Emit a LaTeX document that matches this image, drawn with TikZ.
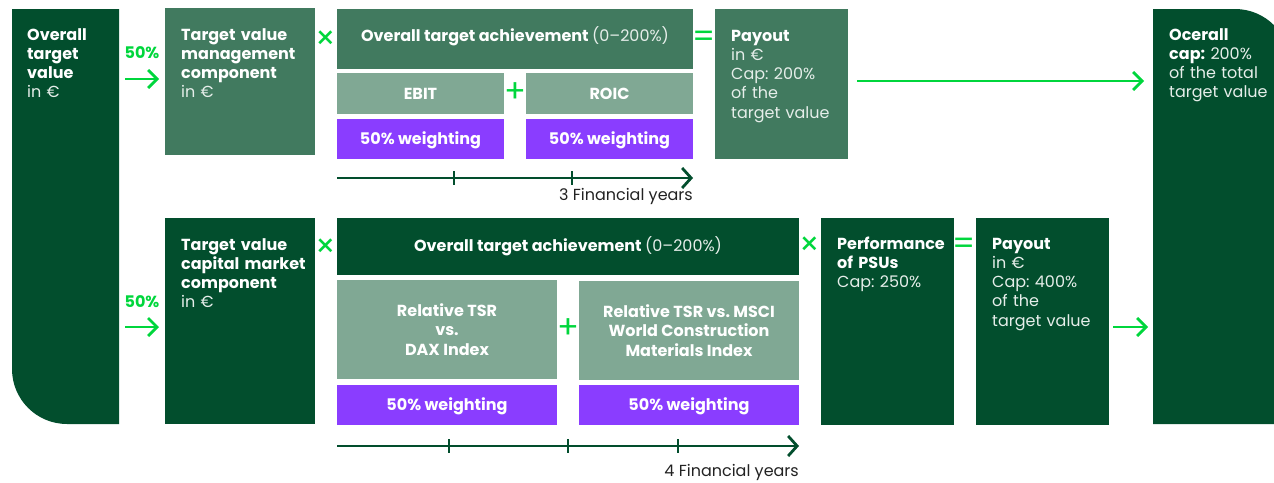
\documentclass[tikz,border=0pt]{standalone}
\usepackage{fontspec}
\setmainfont{Poppins}
\frenchspacing
\usetikzlibrary{arrows.meta}
\definecolor{dkg}{HTML}{024E2D}
\definecolor{mdg}{HTML}{417A5F}
\definecolor{ltg}{HTML}{80A894}
\definecolor{pur}{HTML}{8A3DFF}
\definecolor{brg}{HTML}{00D63C}
\definecolor{offw}{HTML}{E6EEEA}
\definecolor{dtxt}{HTML}{222222}
\begin{document}
\begin{tikzpicture}[x=1pt,y=-1pt,
  box/.style={inner sep=0pt, outer sep=0pt, anchor=north west, draw=none},
  txt/.style={inner sep=0pt, anchor=base west, text=offw, align=left, text width=140pt, font=\fontsize{16}{19.3}\selectfont},
  ctr/.style={inner sep=0pt, anchor=center, text=white, align=center, font=\fontsize{16}{19.3}\selectfont\bfseries},
  op/.style={inner sep=0pt, anchor=center, text=brg, font=\fontsize{32}{32}\selectfont},
  pct/.style={inner sep=0pt, anchor=center, text=brg, font=\fontsize{16}{16}\selectfont\bfseries},
  yrs/.style={inner sep=0pt, anchor=base east, text=dtxt, font=\fontsize{16}{16}\selectfont},
  garrow/.style={draw=brg, line width=2.8pt, -{Straight Barb[length=9pt,width=18pt]}},
  tline/.style={draw=dkg, line width=2.8pt, -{Straight Barb[length=9pt,width=20pt]}},
  tick/.style={draw=dkg, line width=2.8pt},
]
\useasboundingbox (0,0) rectangle (1274,482);
\clip (0,0) rectangle (1274,482);

% left column
\fill[dkg] (12,9) -- (119,9) -- (119,424) -- (67,424) .. controls (36.6,424) and (12,399.4) .. (12,369) -- cycle;
\node[box, minimum width=107pt, minimum height=415pt] (leftcol) at (12,9) {};
\node[txt] (lefttxt) at (27,40) {\textcolor{white}{\bfseries Overall\\target\\value}\\in €};

% right column
\fill[dkg] (1153,9) -- (1235,9) .. controls (1265.4,9) and (1290,33.6) .. (1290,64) -- (1290,424) -- (1153,424) -- cycle;
\node[box, minimum width=121pt, minimum height=415pt] (rightcol) at (1153,9) {};
\node[txt] (righttxt) at (1169,40) {\textcolor{white}{\bfseries Ocerall\\cap:} 200\%\\of the total\\target value};

% ---------- top row
\node[pct] (p1) at (142,53) {50\%};
\node[box, fill=mdg, minimum width=150pt, minimum height=147pt] (mgmt) at (165,8) {};
\node[txt] (mgmttxt) at (181,40) {\textcolor{white}{\bfseries Target value\\management\\component}\\in €};
\node[op] (x1) at (326,40) {×};
\node[box, fill=mdg, minimum width=356pt, minimum height=60pt] (ota) at (337,9) {};
\node[ctr, anchor=base] (otatxt) at (515,41) {Overall target achievement \mdseries\textcolor{offw}{(0–200\%)}};
\node[box, fill=ltg, minimum width=167pt, minimum height=41pt] (ebit) at (337,73) {};
\node[ctr] (ebittxt) at (ebit.center) {EBIT};
\node[op] (plus1) at (515,93) {+};
\node[box, fill=ltg, minimum width=167pt, minimum height=41pt] (roic) at (526,73) {};
\node[ctr] (roictxt) at (roic.center) {ROIC};
\node[box, fill=pur, minimum width=167pt, minimum height=40pt] (w1) at (337,119) {};
\node[ctr] (w1txt) at ([yshift=-1pt]w1.center) {50\% weighting};
\node[box, fill=pur, minimum width=167pt, minimum height=40pt] (w2) at (526,119) {};
\node[ctr] (w2txt) at ([yshift=-1pt]w2.center) {50\% weighting};
\draw[tline] (ebit.west |- 0,178) -- (ota.east |- 0,178);
\draw[tick] (454,171) -- (454,185);
\draw[tick] (572,171) -- (572,185);
\node[yrs] (yrs1) at (693,200) {3 Financial years};
\node[op] (eq1) at (704,39) {=};
\node[box, fill=mdg, minimum width=133pt, minimum height=150pt] (pay1) at (715,9) {};
\node[txt] (pay1txt) at (731,41) {\textcolor{white}{\bfseries Payout}\\in €\\Cap: 200\%\\of the\\target value};

\draw[garrow, shorten <=6pt, shorten >=6pt] (leftcol.east |- 0,79) -- (mgmt.west |- 0,79);
\draw[garrow, shorten <=9pt, shorten >=9pt] (pay1.east |- 0,81) -- (rightcol.west |- 0,81);

% ---------- bottom row
\node[pct] (p2) at (142,302) {50\%};
\node[box, fill=dkg, minimum width=150pt, minimum height=206pt] (cmc) at (165,218) {};
\node[txt] (cmctxt) at (181,250) {\textcolor{white}{\bfseries Target value\\capital market\\component}\\in €};
\node[op] (x2) at (326,248) {×};
\node[box, fill=dkg, minimum width=462pt, minimum height=57pt] (ota2) at (337,218) {};
\node[ctr, anchor=base] (ota2txt) at (568,251) {Overall target achievement \mdseries\textcolor{offw}{(0–200\%)}};
\node[box, fill=ltg, minimum width=220pt, minimum height=99pt] (tsr1) at (337,280) {};
\node[ctr] (tsr1txt) at (tsr1.center) {Relative TSR\\vs.\\DAX Index};
\node[op] (plus2) at (568,329) {+};
\node[box, fill=ltg, minimum width=220pt, minimum height=99pt] (tsr2) at (579,281) {};
\node[ctr] (tsr2txt) at (tsr2.center) {Relative TSR vs. MSCI\\World Construction\\Materials Index};
\node[box, fill=pur, minimum width=220pt, minimum height=40pt] (w3) at (337,385) {};
\node[ctr] (w3txt) at ([yshift=-1pt]w3.center) {50\% weighting};
\node[box, fill=pur, minimum width=220pt, minimum height=40pt] (w4) at (579,385) {};
\node[ctr] (w4txt) at ([yshift=-1pt]w4.center) {50\% weighting};
\draw[tline] (tsr1.west |- 0,446) -- (ota2.east |- 0,446);
\draw[tick] (449,439) -- (449,453);
\draw[tick] (568,439) -- (568,453);
\draw[tick] (678,439) -- (678,453);
\node[yrs] (yrs2) at (799,476) {4 Financial years};
\node[op] (x3) at (810,246) {×};
\node[box, fill=dkg, minimum width=133pt, minimum height=207pt] (psu) at (821,218) {};
\node[txt] (psutxt) at (837,249) {\textcolor{white}{\bfseries Performance\\of PSUs}\\Cap: 250\%};
\node[op] (eq2) at (964,246) {=};
\node[box, fill=dkg, minimum width=133pt, minimum height=207pt] (pay2) at (976,218) {};
\node[txt] (pay2txt) at (992,249) {\textcolor{white}{\bfseries Payout}\\in €\\Cap: 400\%\\of the\\target value};

\draw[garrow, shorten <=6pt, shorten >=6pt] (leftcol.east |- 0,327) -- (cmc.west |- 0,327);
\draw[garrow, shorten <=4pt, shorten >=5pt] (pay2.east |- 0,327) -- (rightcol.west |- 0,327);
\end{tikzpicture}
\end{document}
